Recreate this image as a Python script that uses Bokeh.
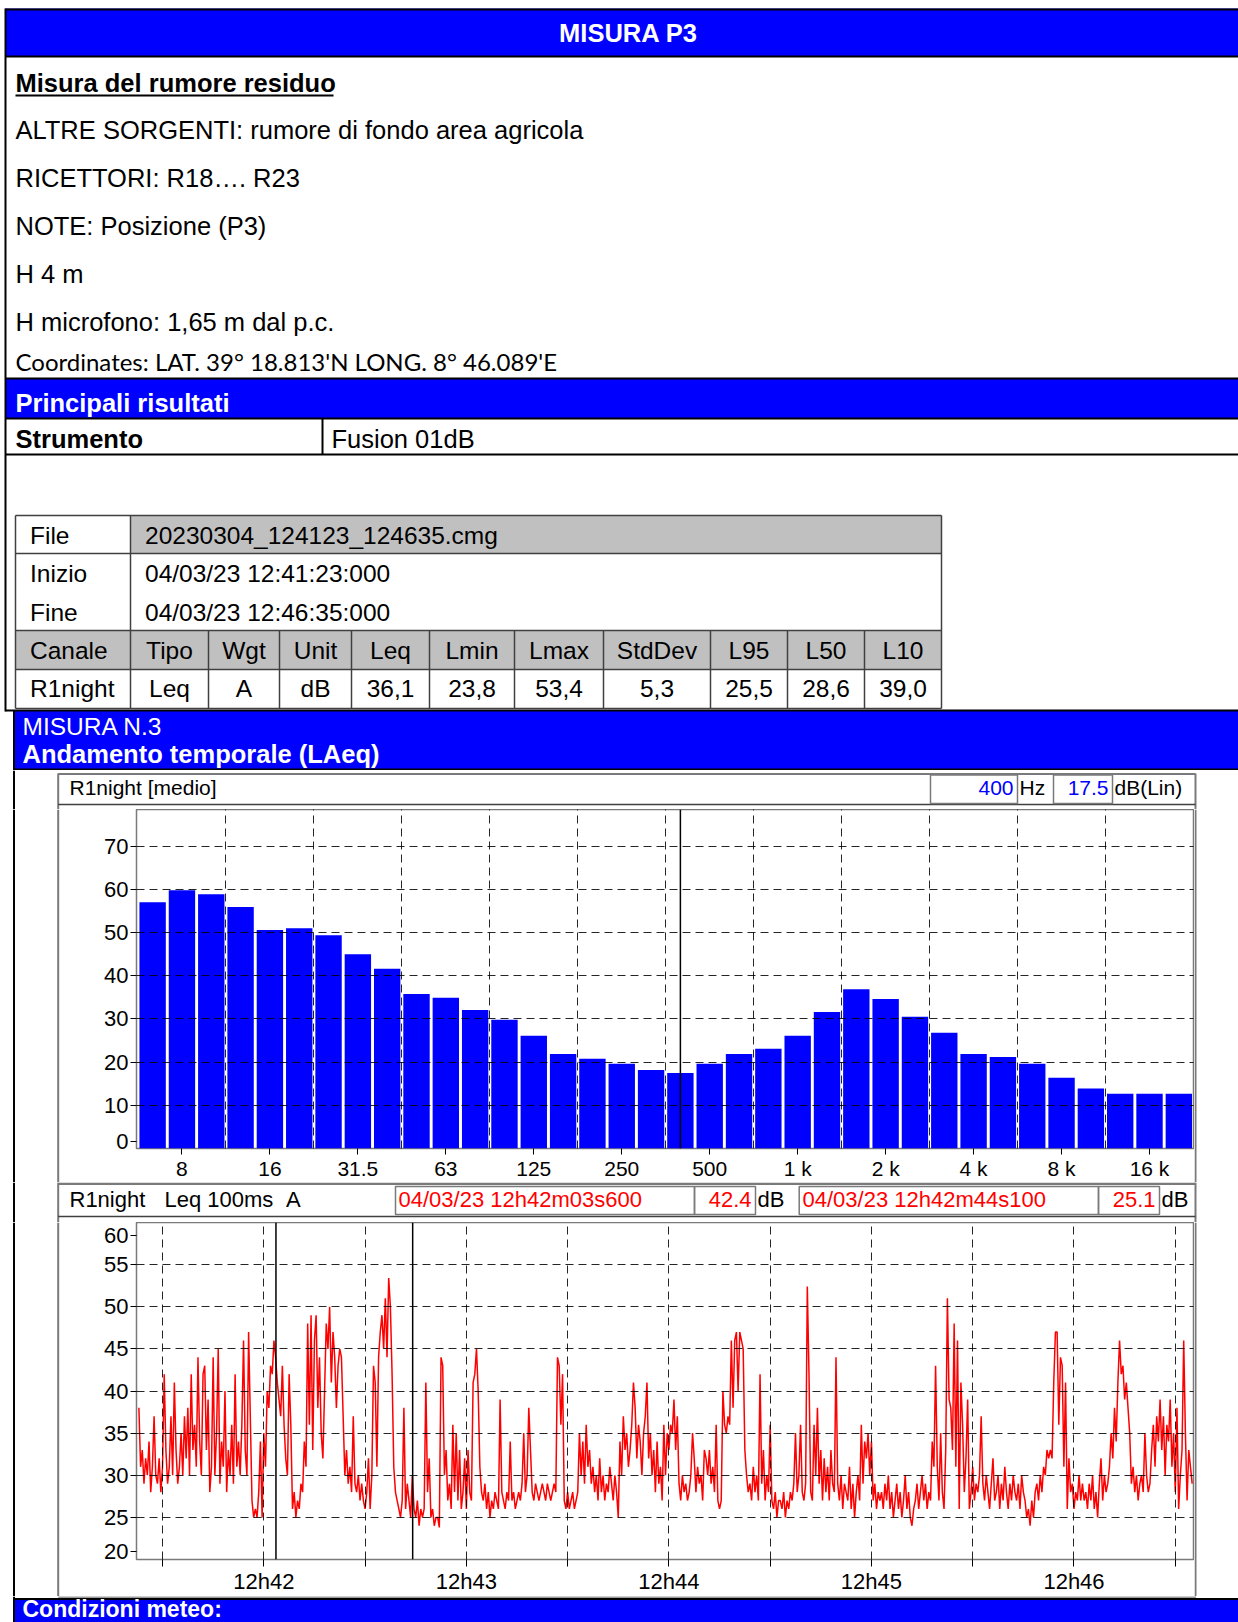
from bokeh.plotting import figure
from bokeh.models import Range1d, FixedTicker, Span
from bokeh.layouts import column, row
from bokeh.core.properties import value
from bokeh.embed import file_html
from bokeh.resources import INLINE

# ---------------- data ----------------
title = "MISURA P3"
section_title = "Misura del rumore residuo"
info_lines = [
    "ALTRE SORGENTI: rumore di fondo area agricola",
    "RICETTORI: R18…. R23",
    "NOTE: Posizione (P3)",
    "H 4 m",
    "H microfono: 1,65 m dal p.c.",
]
coord_line = "Coordinates: LAT. 39° 18.813'N LONG. 8° 46.089'E"
instrument = "Fusion 01dB"
file_rows = [("File", "20230304_124123_124635.cmg"),
             ("Inizio", "04/03/23 12:41:23:000"),
             ("Fine", "04/03/23 12:46:35:000")]
table_cols = ["Canale", "Tipo", "Wgt", "Unit", "Leq", "Lmin", "Lmax", "StdDev", "L95", "L50", "L10"]
table_vals = ["R1night", "Leq", "A", "dB", "36,1", "23,8", "53,4", "5,3", "25,5", "28,6", "39,0"]

band_labels = ["6.3", "8", "10", "12.5", "16", "20", "25", "31.5", "40", "50", "63", "80",
               "100", "125", "160", "200", "250", "315", "400", "500", "630", "800", "1k", "1.25k",
               "1.6k", "2k", "2.5k", "3.15k", "4k", "5k", "6.3k", "8k", "10k", "12.5k", "16k", "20k"]
band_levels = [57.0, 59.8, 58.9, 55.9, 50.6, 51.0, 49.4, 45.0, 41.6, 35.8, 34.9, 32.1,
               29.8, 26.1, 21.9, 20.8, 19.6, 18.2, 17.5, 19.6, 21.9, 23.1, 26.1, 31.6,
               36.9, 34.6, 30.5, 26.8, 21.9, 21.2, 19.6, 16.4, 13.9, 12.7, 12.7, 12.7]
shown_bands = ["8", "16", "31.5", "63", "125", "250", "500", "1k", "2k", "4k", "8k", "16k"]
shown_band_text = ["8", "16", "31.5", "63", "125", "250", "500", "1 k", "2 k", "4 k", "8 k", "16 k"]
spec_y_ticks = [0, 10, 20, 30, 40, 50, 60, 70]
spec_cursor_band = "400"
spec_cursor_text = ["400", "17.5"]

ts_start = "12:41:23"
ts_step_s = 0.5
ts_levels = [
    38, 31, 33, 29, 32, 30, 34, 28, 31, 37, 30, 29, 32, 28, 31, 42, 33, 29, 31, 37,
    30, 41, 33, 29, 31, 35, 30, 37, 32, 38, 30, 42, 33, 36, 31, 44, 34, 30, 42, 43,
    33, 39, 28, 31, 44, 30, 35, 45, 29, 34, 31, 40, 28, 33, 30, 36, 29, 42, 31, 34,
    30, 36, 46, 33, 30, 47, 37, 27, 25, 26, 25, 28, 34, 25, 35, 31, 40, 38, 43, 42,
    46, 44, 41, 39, 37, 43, 36, 32, 30, 42, 36, 26, 28, 25, 27, 26, 29, 28, 34, 31,
    48, 36, 49, 33, 46, 49, 38, 44, 35, 32, 40, 48, 45, 50, 41, 47, 44, 38, 43, 45,
    44, 37, 30, 33, 29, 31, 28, 37, 29, 28, 30, 27, 29, 27, 26, 28, 32, 26, 30, 43,
    41, 31, 44, 47, 49, 45, 51, 44, 53.4, 50, 42, 31, 28, 27, 26, 25, 27, 38, 26, 29,
    27, 25, 30, 26, 25, 27, 24, 26, 25, 26, 41, 28, 32, 25, 26, 24, 25, 25, 23.8, 44,
    43, 30, 33, 27, 29, 26, 36, 28, 35, 27, 33, 26, 28, 32, 26, 33, 28, 27, 41, 42,
    45, 40, 31, 28, 27, 29, 26, 28, 25, 27, 26, 28, 27, 26, 39, 28, 27, 26, 28, 27,
    34, 27, 28, 26, 27, 28, 27, 29, 35, 28, 30, 38, 33, 28, 27, 29, 28, 27, 28, 29,
    28, 27, 29, 28, 27, 28, 29, 28, 44, 43, 36, 42, 27, 26, 28, 26, 27, 28, 26, 27,
    28, 35, 30, 34, 29, 36, 31, 33, 29, 31, 28, 30, 27, 32, 28, 30, 27, 29, 28, 31,
    29, 27, 30, 28, 25, 34, 30, 37, 33, 35, 31, 33, 36, 41, 38, 32, 36, 34, 30, 35,
    37, 41, 32, 35, 30, 33, 28, 34, 29, 31, 27, 36, 30, 35, 33, 36, 35, 39, 33, 37,
    29, 27, 30, 28, 29, 27, 28, 30, 35, 32, 28, 31, 29, 30, 27, 33, 32, 30, 33, 29,
    31, 28, 36, 27, 26, 27, 40, 36, 35, 37, 36, 46, 38, 46, 47, 40, 47, 46, 45, 33,
    30, 28, 29, 27, 31, 28, 30, 27, 42, 29, 33, 27, 30, 28, 36, 27, 26, 28, 25, 27,
    27, 26, 28, 25, 27, 26, 28, 27, 29, 35, 28, 30, 36, 28, 27, 29, 52.4, 42, 28, 27,
    36, 30, 38, 29, 33, 27, 32, 28, 31, 27, 33, 29, 28, 44, 29, 27, 30, 26, 29, 28,
    27, 31, 26, 29, 25, 28, 30, 27, 36, 29, 34, 32, 35, 30, 34, 27, 29, 26, 28, 27,
    28, 26, 29, 27, 30, 26, 28, 25, 27, 29, 26, 28, 25, 27, 30, 26, 28, 25, 24, 26,
    27, 29, 26, 28, 30, 27, 29, 26, 28, 27, 34, 31, 43, 31, 27, 35, 28, 26, 33, 51,
    39, 38, 33, 48, 31, 46, 26, 41, 36, 28, 32, 39, 26, 28, 31, 27, 29, 28, 30, 37,
    29, 27, 30, 28, 26, 29, 32, 27, 28, 30, 26, 29, 27, 31, 28, 26, 29, 27, 30, 28,
    27, 29, 26, 30, 28, 27, 25, 26, 24, 27, 25, 28, 29, 27, 30, 28, 31, 30, 33, 32,
    33, 32, 41, 47, 47, 36, 44, 43, 31, 41, 26, 32, 28, 29, 26, 28, 27, 30, 27, 29,
    27, 28, 26, 29, 27, 30, 26, 28, 25, 29, 32, 27, 30, 28, 29, 31, 35, 32, 38, 34,
    41, 46, 42, 43, 39, 41, 38, 35, 29, 31, 28, 30, 27, 29, 30, 28, 35, 30, 28, 29,
    33, 36, 31, 37, 34, 39, 33, 37, 30, 36, 34, 39, 31, 35, 28, 38, 26, 30, 33, 46,
    35, 27, 33, 31, 29,
]
ts_tick_times = ["12:41:30", "12:42:00", "12:42:30", "12:43:00", "12:43:30", "12:44:00",
                 "12:44:30", "12:45:00", "12:45:30", "12:46:00", "12:46:30"]
ts_tick_labels = ["", "12h42", "", "12h43", "", "12h44", "", "12h45", "", "12h46", ""]
ts_y_ticks = [20, 25, 30, 35, 40, 45, 50, 55, 60]
ts_cursor_times = ["12:42:03.6", "12:42:44.1"]
ts_cursor_text = ["04/03/23 12h42m03s600", "42.4", "04/03/23 12h42m44s100", "25.1"]

# ---------------- style ----------------
BLUE = "#0000FF"
SANS = "Liberation Sans"
GRAY = "#7a7a7a"
PAGE_W = 1238
X_LEFT_STRIP = 96
X_FRAME_R = 1194


def secs(hms):
    h, m, s = hms.split(":")
    return int(h) * 3600 + int(m) * 60 + float(s)


T0 = secs(ts_start)


def no_align(p):
    try:
        p.frame_align = False
    except Exception:
        pass


def strip(w, h, y0, y1, x0=0):
    p = figure(width=w, height=h, x_range=Range1d(x0, x0 + w), y_range=Range1d(y1, y0),
               x_axis_type=None, y_axis_type=None, toolbar_location=None,
               output_backend="svg", min_border=0, outline_line_color=None)
    p.grid.visible = False
    no_align(p)
    return p


def hl(p, x0, x1, y, color="black", w=2):
    p.segment(x0=[x0], y0=[y], x1=[x1], y1=[y], line_color=color, line_width=w)


def vl(p, x, y0, y1, color="black", w=2):
    p.segment(x0=[x], y0=[y0], x1=[x], y1=[y1], line_color=color, line_width=w)


def frame_box(p, l, r, t, b, color=GRAY, w=1.5):
    p.quad(left=[l], right=[r], top=[t], bottom=[b], fill_color=None, line_color=color, line_width=w)


def ttext(p, x, y, t, size=25.5, color="black", style="normal", align="left", font=SANS):
    # y = wanted baseline (page pixels); small correction for the svg text box
    p.text(x=[x], y=[y - 0.37 * size], text=[t], text_font=value(font), text_font_size=f"{size}px",
           text_color=color, text_font_style=style, text_align=align,
           text_baseline="alphabetic")


# ---------------- top (document) ----------------
top = strip(PAGE_W, 770, 0, 770)
top.quad(left=[5, 5, 13.5], right=[1240, 1240, 1240], top=[8, 378, 710], bottom=[56, 418, 769],
         fill_color=BLUE, line_color=None)
cb = [15, 130, 208, 279, 351, 429, 514, 603, 710, 787, 864, 941]
top.quad(left=[130, 15], right=[941, 941], top=[515, 630], bottom=[553, 669],
         fill_color="#C0C0C0", line_color=None)
for y in [9, 56, 378, 418, 454, 710]:
    hl(top, 5, 1240, y)
hl(top, 13.5, 1240, 769)
vl(top, 5, 8, 711)
vl(top, 13.5, 710, 770)
vl(top, 322, 418, 454)
hl(top, 15, 333, 95)
for y in [515, 553, 630, 669, 708]:
    hl(top, 15, 941, y, color="#404040", w=1.5)
for x in [15, 130, 941]:
    vl(top, x, 515, 708, color="#404040", w=1.5)
for x in cb[2:-1]:
    vl(top, x, 630, 708, color="#404040", w=1.5)

ttext(top, 628, 41.5, title, color="white", style="bold", align="center")
ttext(top, 15, 91.5, section_title, style="bold")
for i, line in enumerate(info_lines):
    ttext(top, 15, 139 + 48.1 * i, line)
ttext(top, 15, 370, coord_line, size=24, font="Lato")
ttext(top, 15, 411.5, "Principali risultati", color="white", style="bold")
ttext(top, 15, 447.5, "Strumento", style="bold")
ttext(top, 331, 447.5, instrument)
for i, (k, v) in enumerate(file_rows):
    ttext(top, 29.5, 544 + 38.5 * i, k, size=24.5)
    ttext(top, 144.5, 544 + 38.5 * i, v, size=24.5)
for j, (c, v) in enumerate(zip(table_cols, table_vals)):
    if j == 0:
        ttext(top, 29.5, 659, c, size=24.5)
        ttext(top, 29.5, 697, v, size=24.5)
    else:
        xc = (cb[j] + cb[j + 1]) / 2
        ttext(top, xc, 659, c, size=24.5, align="center")
        ttext(top, xc, 697, v, size=24.5, align="center")
ttext(top, 22, 735, "MISURA N.3", size=24.5, color="white")
ttext(top, 22, 763, "Andamento temporale (LAeq)", color="white", style="bold")


# ---------------- chart styling ----------------
def style_axes(p, font="22px"):
    for ax in p.axis:
        ax.axis_line_color = None
        ax.major_tick_line_color = "black"
        ax.major_tick_line_width = 1
        ax.major_tick_in = 0
        ax.major_tick_out = 6
        ax.minor_tick_line_color = None
        ax.major_label_text_font = SANS
        ax.major_label_text_font_size = font
        ax.major_label_text_color = "black"
        ax.major_label_standoff = 2
    p.outline_line_color = GRAY
    p.outline_line_width = 1.5
    for g in p.grid:
        g.grid_line_color = "black"
        g.grid_line_alpha = 0.85
        g.grid_line_dash = "8 5"
        g.grid_line_width = 1
        g.level = "overlay"
    no_align(p)


# ---------------- spectrum: header strip ----------------
bar_hdr = strip(PAGE_W, 39, 770, 809)
vl(bar_hdr, 13.5, 770, 809)
hl(bar_hdr, 57.7, 1195, 773.5, color=GRAY, w=2)
vl(bar_hdr, 57.7, 773, 809, color=GRAY, w=2)
vl(bar_hdr, 1195, 773, 809, color=GRAY, w=2)
hl(bar_hdr, 57.7, 1195, 804, color="#404040", w=1.5)
frame_box(bar_hdr, 930, 1017, 774.5, 803)
frame_box(bar_hdr, 1053, 1112, 774.5, 803)
ttext(bar_hdr, 69, 795, "R1night [medio]", size=21)
ttext(bar_hdr, 1013, 795, spec_cursor_text[0], size=21, color=BLUE, align="right")
ttext(bar_hdr, 1019, 795, "Hz", size=21)
ttext(bar_hdr, 1108, 795, spec_cursor_text[1], size=21, color=BLUE, align="right")
ttext(bar_hdr, 1114, 795, "dB(Lin)", size=21)

bar_left = strip(X_LEFT_STRIP, 373, 809, 1182)
vl(bar_left, 13.5, 809, 1182)
vl(bar_left, 57.7, 809, 1182, color=GRAY, w=2)
bar_right = strip(PAGE_W - X_FRAME_R, 373, 809, 1182, x0=X_FRAME_R)
vl(bar_right, 1195, 809, 1182, color=GRAY, w=2)

# ---------------- spectrum chart ----------------
bar = figure(width=X_FRAME_R - X_LEFT_STRIP, height=373, x_range=Range1d(-0.55, 35.5),
             y_range=Range1d(0, 78.5), toolbar_location=None, output_backend="svg",
             min_border_left=136 - X_LEFT_STRIP, min_border_right=X_FRAME_R - 1193,
             min_border_top=0, min_border_bottom=33)
idx = list(range(len(band_labels)))
bar.vbar(x=idx, top=band_levels, width=0.9, fill_color=BLUE, line_color=None)
tick_idx = [band_labels.index(b) for b in shown_bands]
bar.xaxis.ticker = FixedTicker(ticks=tick_idx)
bar.xaxis.major_label_overrides = {i: t for i, t in zip(tick_idx, shown_band_text)}
bar.xgrid.ticker = FixedTicker(ticks=[i + 1.5 for i in tick_idx[:-1]])
# the lowest label sits just above the axis line, as in the instrument printout
spec_y_pos = [spec_y_ticks[0] + 1.6] + spec_y_ticks[1:]
bar.yaxis.ticker = FixedTicker(ticks=spec_y_pos)
bar.yaxis.major_label_overrides = {p: str(v) for p, v in zip(spec_y_pos, spec_y_ticks)}
bar.ygrid.ticker = FixedTicker(ticks=spec_y_ticks[1:])
style_axes(bar)
bar.xaxis.major_label_text_font_size = "21px"
bar.add_layout(Span(location=band_labels.index(spec_cursor_band), dimension="height",
                    line_color="black", line_width=1.5))

# ---------------- time history: header strip ----------------
ts_hdr = strip(PAGE_W, 40, 1182, 1222)
vl(ts_hdr, 13.5, 1182, 1222)
hl(ts_hdr, 57.7, 1195, 1183.2, color=GRAY, w=2.5)
vl(ts_hdr, 57.7, 1182, 1222, color=GRAY, w=2)
vl(ts_hdr, 1195, 1182, 1222, color=GRAY, w=2)
hl(ts_hdr, 57.7, 1195, 1216, color="#404040", w=1.5)
for (l, r) in [(395, 694), (694, 755), (798.7, 1098), (1098, 1159)]:
    frame_box(ts_hdr, l, r, 1186, 1214)
ttext(ts_hdr, 69, 1207, "R1night", size=22)
ttext(ts_hdr, 164, 1207, "Leq 100ms", size=22)
ttext(ts_hdr, 285.5, 1207, "A", size=22)
ttext(ts_hdr, 398, 1207, ts_cursor_text[0], size=22, color="#FF0000")
ttext(ts_hdr, 751, 1207, ts_cursor_text[1], size=22, color="#FF0000", align="right")
ttext(ts_hdr, 757, 1207, "dB", size=22)
ttext(ts_hdr, 802, 1207, ts_cursor_text[2], size=22, color="#FF0000")
ttext(ts_hdr, 1155, 1207, ts_cursor_text[3], size=22, color="#FF0000", align="right")
ttext(ts_hdr, 1161, 1207, "dB", size=22)

ts_left = strip(X_LEFT_STRIP, 374, 1222, 1596)
vl(ts_left, 13.5, 1222, 1596)
vl(ts_left, 57.7, 1222, 1596, color=GRAY, w=2)
ts_right = strip(PAGE_W - X_FRAME_R, 374, 1222, 1596, x0=X_FRAME_R)
vl(ts_right, 1195, 1222, 1596, color=GRAY, w=2)

# ---------------- time history chart ----------------
ts_x = [i * ts_step_s for i in range(len(ts_levels))]
ts = figure(width=X_FRAME_R - X_LEFT_STRIP, height=374, x_range=Range1d(-0.71, 312.4),
            y_range=Range1d(20, 60), toolbar_location=None, output_backend="svg",
            min_border_left=136 - X_LEFT_STRIP, min_border_right=X_FRAME_R - 1193,
            min_border_top=0, min_border_bottom=34)
ts.line(x=ts_x, y=ts_levels, line_color="#FF0000", line_width=1.5)
tick_s = [secs(t) - T0 for t in ts_tick_times]
ts.xaxis.ticker = FixedTicker(ticks=tick_s)
ts.xaxis.major_label_overrides = {s: l for s, l in zip(tick_s, ts_tick_labels)}
ts.xgrid.ticker = FixedTicker(ticks=tick_s)
# first and last labels sit inside the frame height, as in the instrument printout
ts_y_pos = [ts_y_ticks[0] + 0.9] + ts_y_ticks[1:-1] + [ts_y_ticks[-1] - 1.5]
ts.yaxis.ticker = FixedTicker(ticks=ts_y_pos)
ts.yaxis.major_label_overrides = {p: str(v) for p, v in zip(ts_y_pos, ts_y_ticks)}
ts.ygrid.ticker = FixedTicker(ticks=ts_y_ticks[1:-1])
style_axes(ts)
ts.xaxis.major_tick_out = 7
for ct in ts_cursor_times:
    ts.add_layout(Span(location=secs(ct) - T0, dimension="height", line_color="black", line_width=1.5))

# ---------------- footer ----------------
foot = strip(PAGE_W, 26, 1596, 1622)
foot.quad(left=[13.5], right=[1240], top=[1598.5], bottom=[1630], fill_color=BLUE, line_color=None)
hl(foot, 57.7, 1195.5, 1596.5, color=GRAY, w=1.5)
hl(foot, 13.5, 1240, 1598.5)
vl(foot, 13.5, 1596, 1622)
ttext(foot, 22, 1617, "Condizioni meteo:", size=23, color="white", style="bold")

layout = column(top, bar_hdr, row(bar_left, bar, bar_right), ts_hdr,
                row(ts_left, ts, ts_right), foot)
open("out.html", "w").write(file_html(layout, INLINE))
